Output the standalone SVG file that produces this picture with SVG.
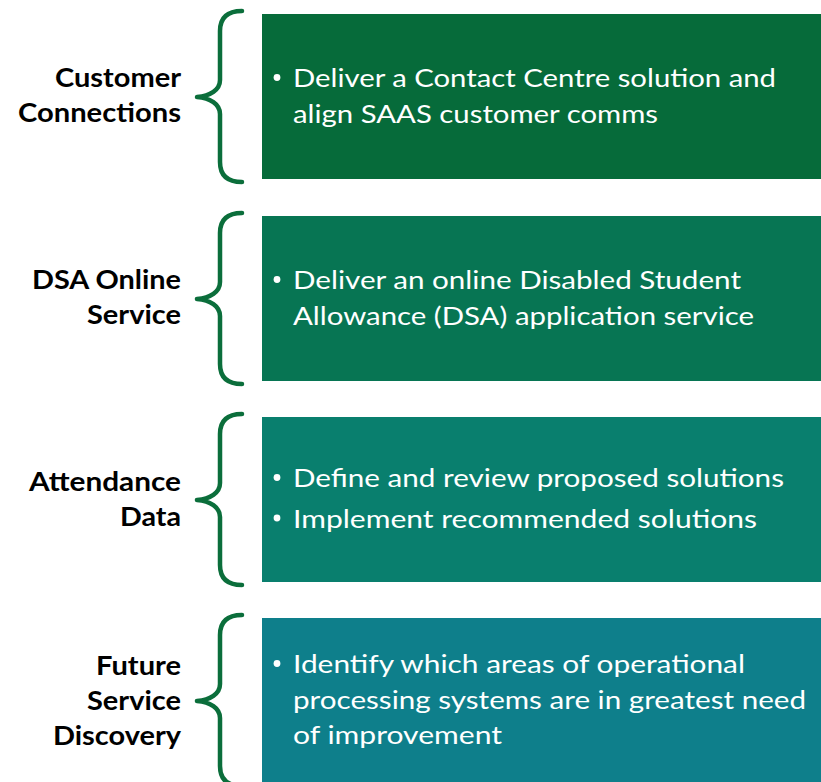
<svg xmlns="http://www.w3.org/2000/svg" width="821" height="782" viewBox="0 0 821 782">
  <defs>
    <!-- curly brace, drawn for a 165px tall panel starting at y=14 -->
    <path id="brace" d="M242,11 C228,11 220,17 220,31 L220,80 C220,90 210,96 197,97 C210,98 220,104 220,114 L220,162 C220,176 228,182 242,182"/>
  </defs>
  <style>
    .brace { fill: none; stroke: #0b6e3b; stroke-width: 4.5; stroke-linecap: round; stroke-linejoin: round; }
    .label { font-family: Lato, "Open Sans", "Liberation Sans", sans-serif; font-weight: 700; font-size: 26px; fill: #000; text-anchor: end; }
    .item { font-family: Lato, "Open Sans", "Liberation Sans", sans-serif; font-size: 25.5px; fill: #fff; }
    .dot { fill: #fff; }
  </style>
  <rect width="821" height="782" fill="#ffffff"/>

  <g id="customer-connections">
    <use href="#brace" class="brace"/>
    <text class="label" x="181" y="87" textLength="126" lengthAdjust="spacingAndGlyphs">Customer</text>
    <text class="label" x="181" y="122" textLength="163" lengthAdjust="spacingAndGlyphs">Connections</text>
    <rect x="262" y="14" width="559" height="165" fill="#066b3a"/>
    <circle class="dot" cx="277" cy="77.5" r="3.4"/>
    <text class="item" x="293" y="87" textLength="483" lengthAdjust="spacingAndGlyphs">Deliver a Contact Centre solution and</text>
    <text class="item" x="293" y="122.5" textLength="365" lengthAdjust="spacingAndGlyphs">align SAAS customer comms</text>
  </g>

  <g id="dsa-online-service">
    <use href="#brace" class="brace" transform="translate(0,202)"/>
    <text class="label" x="181" y="289" textLength="149" lengthAdjust="spacingAndGlyphs">DSA Online</text>
    <text class="label" x="181" y="324" textLength="94" lengthAdjust="spacingAndGlyphs">Service</text>
    <rect x="262" y="216" width="559" height="165" fill="#077553"/>
    <circle class="dot" cx="277" cy="279.5" r="3.4"/>
    <text class="item" x="293" y="289" textLength="448" lengthAdjust="spacingAndGlyphs">Deliver an online Disabled Student</text>
    <text class="item" x="293" y="324.5" textLength="461" lengthAdjust="spacingAndGlyphs">Allowance (DSA) application service</text>
  </g>

  <g id="attendance-data">
    <use href="#brace" class="brace" transform="translate(0,403)"/>
    <text class="label" x="181" y="490.5" textLength="152" lengthAdjust="spacingAndGlyphs">Attendance</text>
    <text class="label" x="181" y="525.5" textLength="61" lengthAdjust="spacingAndGlyphs">Data</text>
    <rect x="262" y="417" width="559" height="165" fill="#097f6e"/>
    <circle class="dot" cx="277" cy="477.5" r="3.4"/>
    <text class="item" x="293" y="487" textLength="491" lengthAdjust="spacingAndGlyphs">Define and review proposed solutions</text>
    <circle class="dot" cx="277" cy="518" r="3.4"/>
    <text class="item" x="293" y="527.5" textLength="464" lengthAdjust="spacingAndGlyphs">Implement recommended solutions</text>
  </g>

  <g id="future-service-discovery">
    <use href="#brace" class="brace" transform="translate(0,604)"/>
    <text class="label" x="181" y="675" textLength="85" lengthAdjust="spacingAndGlyphs">Future</text>
    <text class="label" x="181" y="710" textLength="94" lengthAdjust="spacingAndGlyphs">Service</text>
    <text class="label" x="181" y="745" textLength="128" lengthAdjust="spacingAndGlyphs">Discovery</text>
    <rect x="262" y="618" width="559" height="165" fill="#0e7f8b"/>
    <circle class="dot" cx="277" cy="663.5" r="3.4"/>
    <text class="item" x="293" y="673" textLength="452" lengthAdjust="spacingAndGlyphs">Identify which areas of operational</text>
    <text class="item" x="293" y="708.5" textLength="513" lengthAdjust="spacingAndGlyphs">processing systems are in greatest need</text>
    <text class="item" x="293" y="744" textLength="209" lengthAdjust="spacingAndGlyphs">of improvement</text>
  </g>
</svg>
